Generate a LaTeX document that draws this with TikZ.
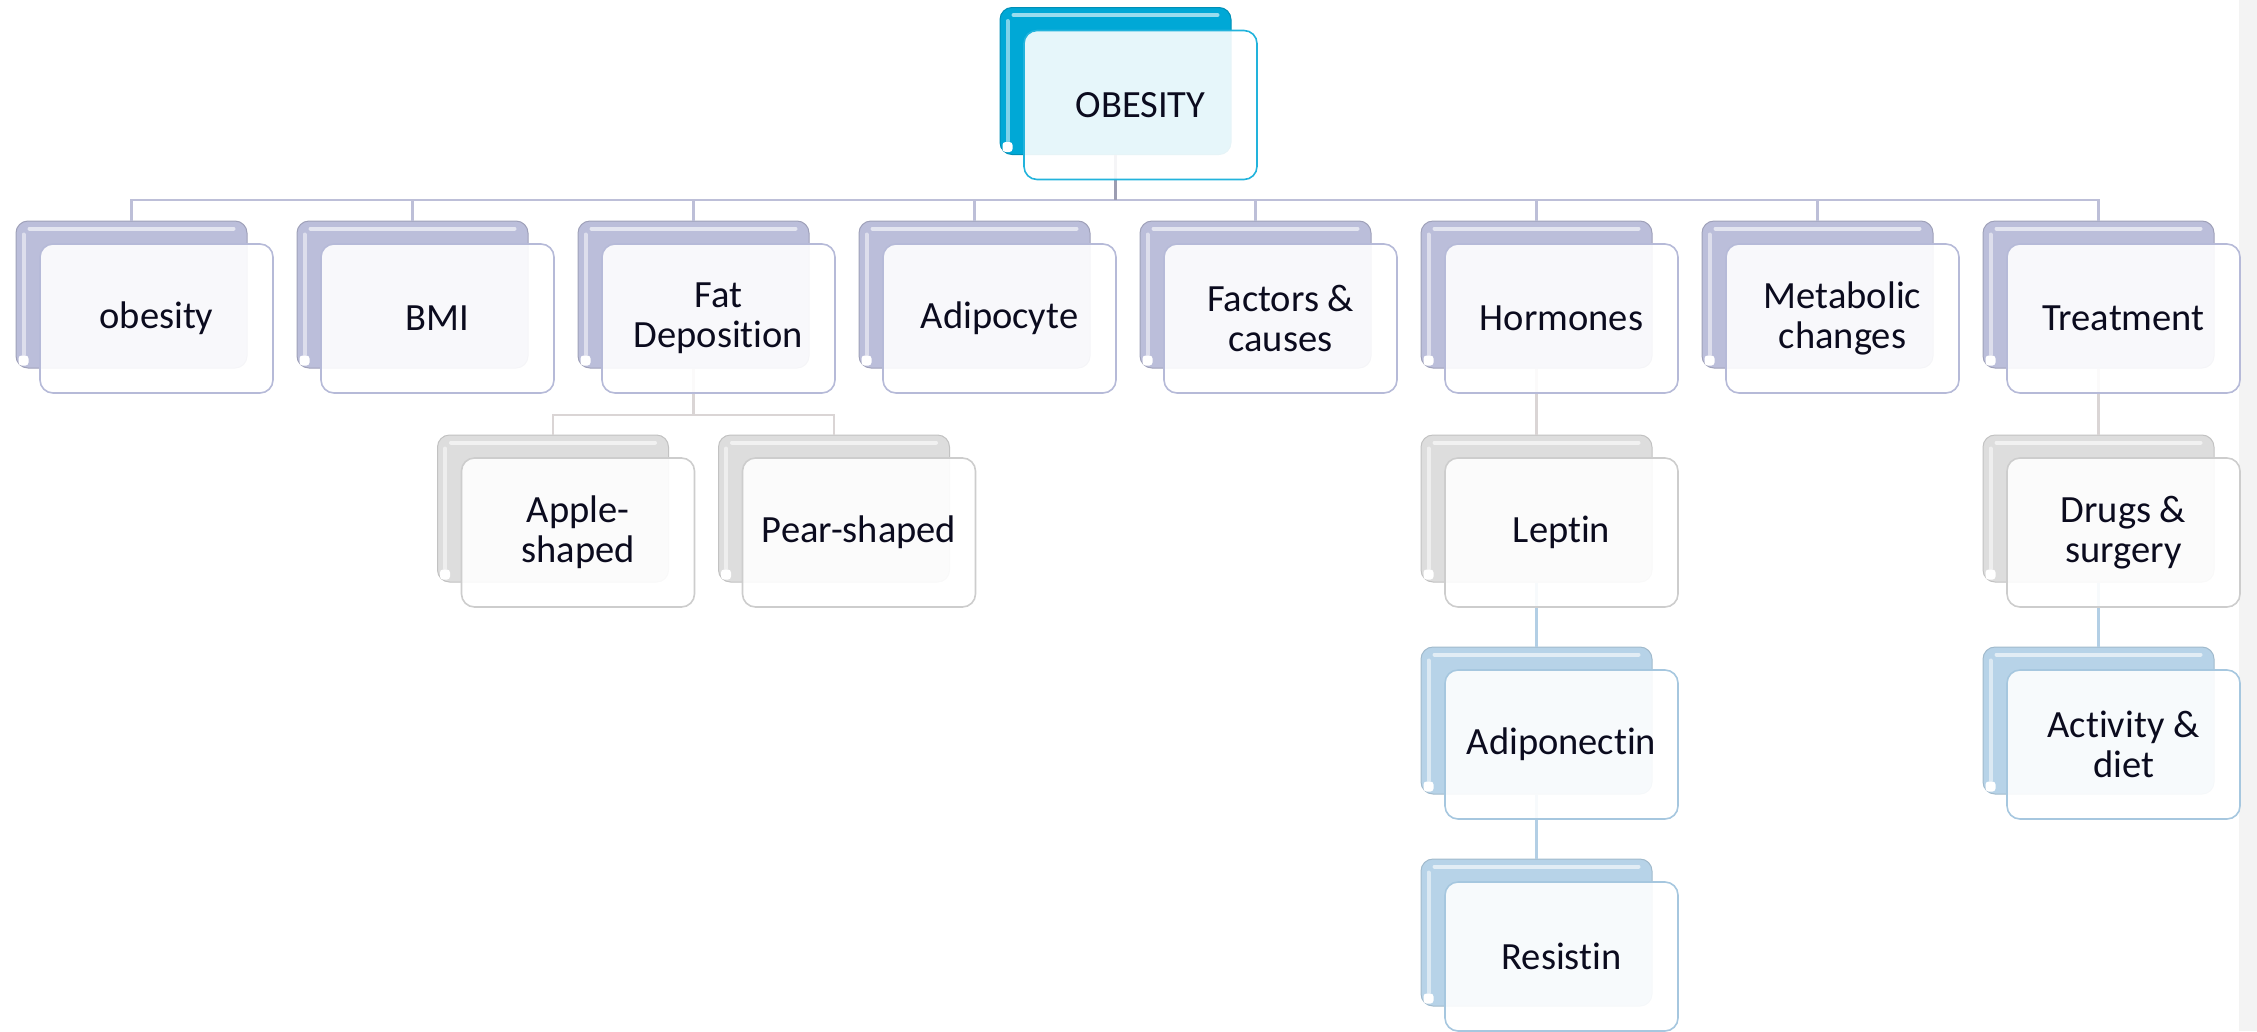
\documentclass[tikz,border=0pt]{standalone}
\usepackage{fontspec}
\setmainfont{Carlito}[Ligatures={NoCommon,NoRare}]
\usepackage{tikz}

\definecolor{topback}{HTML}{00A8D6}
\definecolor{topedge}{HTML}{22B3DC}
\definecolor{lavback}{HTML}{BBBEDA}
\definecolor{lavedge}{HTML}{B6BAD8}
\definecolor{greyback}{HTML}{DDDDDD}
\definecolor{greyedge}{HTML}{CDCDCD}
\definecolor{blueback}{HTML}{B7D3E8}
\definecolor{blueedge}{HTML}{A6C7DF}
\definecolor{lavline}{HTML}{BDBFD8}
\definecolor{trunkline}{HTML}{9C9DB2}
\definecolor{greyline}{HTML}{DAD5D5}
\definecolor{blueline}{HTML}{B3CFE5}
\definecolor{txt}{HTML}{0B0B1E}
\definecolor{sidestrip}{HTML}{F3F3F3}

\tikzset{backbox/.style={rectangle, rounded corners=12pt, minimum width=231pt,
      minimum height=147pt, inner sep=0pt, line width=1pt}}
\tikzset{frontbox/.style={rectangle, rounded corners=13pt, minimum width=233pt,
      minimum height=149pt, inner sep=0pt, line width=1.6pt, fill=white,
      fill opacity=.9, text opacity=1, text=txt, align=center,
      font=\fontsize{38.5pt}{40pt}\selectfont}}
\tikzset{topcol/.style={fill=topback, draw=topback!85!black}}
\tikzset{lavcol/.style={fill=lavback, draw=lavback!85!black}}
\tikzset{greycol/.style={fill=greyback, draw=greyback!88!black}}
\tikzset{bluecol/.style={fill=blueback, draw=blueback!88!black}}
\tikzset{conn/.style={line width=2.5pt}}

% highlight on a back box
\newcommand{\boxshine}[1]{%
  \draw[white, opacity=.5, line width=4pt, line cap=round]
    ([xshift=8pt,yshift=14pt]#1.south west) -- ([xshift=8pt,yshift=-14pt]#1.north west);
  \draw[white, opacity=.6, line width=4pt, line cap=round]
    ([xshift=14pt,yshift=-8pt]#1.north west) -- ([xshift=-14pt,yshift=-8pt]#1.north east);
  \fill[white, rounded corners=3pt] ([xshift=3pt,yshift=3pt]#1.south west)
    rectangle ([xshift=13pt,yshift=13pt]#1.south west);}

\begin{document}
\begin{tikzpicture}[x=1pt,y=-1pt]
		\useasboundingbox (0,0) rectangle (2257,1031);
		\fill[sidestrip] (2239,0) rectangle (2257,1031);
		\coordinate (bus) at (0,200);
		\coordinate (subbus) at (0,415);

		% back boxes
		\node[backbox, topcol] (top) at (1115.5,81) {};
		\boxshine{top}
		\foreach \n [count=\i from 0] in {obesity,bmi,fat,adipo,factors,horm,metab,treat}{
			\node[backbox, lavcol] (\n) at ({131.5+281*\i},294.5) {};
			\boxshine{\n}
		}
		\node[backbox, greycol] (apple) at (553,508.5) {};
		\node[backbox, greycol] (pear) at (834,508.5) {};
		\node[backbox, greycol] (leptin) at (1536.5,508.5) {};
		\node[backbox, bluecol] (adipon) at (1536.5,720.5) {};
		\node[backbox, bluecol] (resist) at (1536.5,932.5) {};
		\node[backbox, greycol] (drugs) at (2098.5,508.5) {};
		\node[backbox, bluecol] (activ) at (2098.5,720.5) {};
		\foreach \n in {apple,pear,leptin,adipon,resist,drugs,activ} {\boxshine{\n}}

		% connectors
		\foreach \n in {obesity,bmi,fat,adipo,factors,horm,metab,treat}
			\draw[conn, lavline] (top.south) -- (top.south |- bus) -| (\n.north);
		\draw[conn, trunkline] (top.south) -- (top.south |- bus);
		\foreach \n in {apple,pear}
			\draw[conn, greyline] (fat.south) -- (fat.south |- subbus) -| (\n.north);
		\draw[conn, greyline] (horm.south) -- (leptin.north);
		\draw[conn, blueline] (leptin.south) -- (adipon.north);
		\draw[conn, blueline] (adipon.south) -- (resist.north);
		\draw[conn, greyline] (treat.south) -- (drugs.north);
		\draw[conn, blueline] (drugs.south) -- (activ.north);

		% front boxes
		\node[frontbox, draw=topedge] (topf) at ([xshift=25pt,yshift=-24pt]top.center) {OBESITY};
		\node[frontbox, draw=lavedge] (obesityf) at ([xshift=25pt,yshift=-24pt]obesity.center) {obesity};
		\node[frontbox, draw=lavedge] (bmif) at ([xshift=25pt,yshift=-24pt]bmi.center) {BMI};
		\node[frontbox, draw=lavedge] (fatf) at ([xshift=25pt,yshift=-24pt]fat.center) {Fat\\Deposition};
		\node[frontbox, draw=lavedge] (adipof) at ([xshift=25pt,yshift=-24pt]adipo.center) {Adipocyte};
		\node[frontbox, draw=lavedge] (factorsf) at ([xshift=25pt,yshift=-24pt]factors.center) {Factors \&\\causes};
		\node[frontbox, draw=lavedge] (hormf) at ([xshift=25pt,yshift=-24pt]horm.center) {Hormones};
		\node[frontbox, draw=lavedge] (metabf) at ([xshift=25pt,yshift=-24pt]metab.center) {Metabolic\\changes};
		\node[frontbox, draw=lavedge] (treatf) at ([xshift=25pt,yshift=-24pt]treat.center) {Treatment};
		\node[frontbox, draw=greyedge] (applef) at ([xshift=25pt,yshift=-24pt]apple.center) {Apple-\\shaped};
		\node[frontbox, draw=greyedge] (pearf) at ([xshift=25pt,yshift=-24pt]pear.center) {Pear-shaped};
		\node[frontbox, draw=greyedge] (leptinf) at ([xshift=25pt,yshift=-24pt]leptin.center) {Leptin};
		\node[frontbox, draw=blueedge] (adiponf) at ([xshift=25pt,yshift=-24pt]adipon.center) {Adiponectin};
		\node[frontbox, draw=blueedge] (resistf) at ([xshift=25pt,yshift=-24pt]resist.center) {Resistin};
		\node[frontbox, draw=greyedge] (drugsf) at ([xshift=25pt,yshift=-24pt]drugs.center) {Drugs \&\\surgery};
		\node[frontbox, draw=blueedge] (activf) at ([xshift=25pt,yshift=-24pt]activ.center) {Activity \&\\diet};
\end{tikzpicture}
\end{document}
